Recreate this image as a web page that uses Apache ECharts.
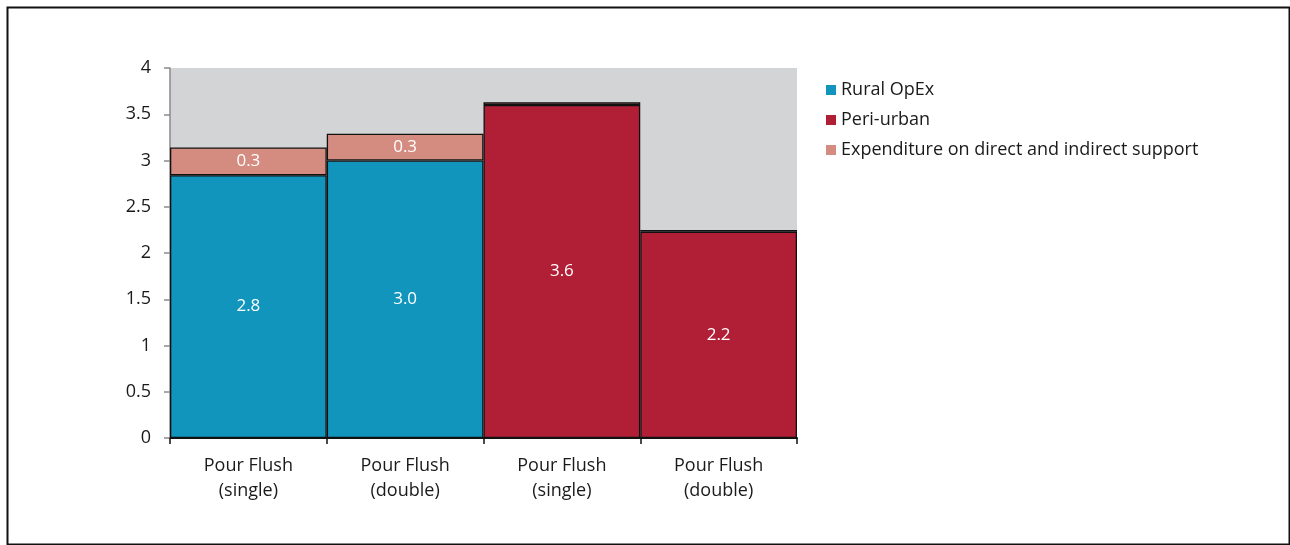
<!DOCTYPE html>
<html>
<head>
<meta charset="utf-8">
<script src="https://cdn.jsdelivr.net/npm/echarts@6/dist/echarts.min.js"></script>
<style>
  html, body { margin: 0; padding: 0; background: #ffffff; }
  #chart { width: 1290px; height: 545px; }
</style>
</head>
<body>
<div id="chart"></div>
<script>
// Categories along the x axis
const categories = ['Pour Flush\n(single)', 'Pour Flush\n(double)', 'Pour Flush\n(single)', 'Pour Flush\n(double)'];

// Stacked values (US$ per household)
const ruralOpEx = [2.84, 3.0, null, null];
const periUrban = [null, null, 3.6, 2.23];
const supportExpenditure = [0.3, 0.29, 0.03, 0.02];

// Y axis ticks
const yMin = 0;
const yMax = 4;
const yStep = 0.5;

const FONT = '"Open Sans", "Noto Sans", sans-serif';
const TEXT = '#1a1a1a';

const chart = echarts.init(document.getElementById('chart'), null, { renderer: 'canvas' });

const valueLabel = {
  show: true,
  position: 'inside',
  color: '#ffffff',
  fontFamily: FONT,
  fontSize: 17,
  formatter: p => (p.value == null || p.value < 0.1) ? '' : Number(p.value).toFixed(1)
};

const barBorder = { borderColor: '#111111', borderWidth: 1.3 };

chart.setOption({
  animation: false,
  backgroundColor: '#ffffff',
  graphic: [{
    type: 'rect',
    left: 5, top: 5,
    shape: { width: 1282, height: 537 },
    style: { fill: 'none', stroke: '#111111', lineWidth: 2 },
    silent: true,
    z: 100
  }],
  legend: {
    orient: 'vertical',
    left: 826,
    top: 80,
    padding: 0,
    itemWidth: 10,
    itemHeight: 10,
    itemGap: 10,
    icon: 'rect',
    textStyle: { color: TEXT, fontFamily: FONT, fontSize: 18, lineHeight: 20 },
    itemStyle: { borderWidth: 0 },
    data: ['Rural OpEx', 'Peri-urban', 'Expenditure on direct and indirect support']
  },
  grid: {
    left: 170,
    right: 493,
    top: 68,
    bottom: 107,
    show: true,
    backgroundColor: '#d3d4d6',
    borderWidth: 0
  },
  xAxis: {
    type: 'category',
    data: categories,
    axisLine: { lineStyle: { color: '#111111', width: 2 } },
    axisTick: { show: true, length: 6, lineStyle: { color: '#111111', width: 1.5 } },
    axisLabel: { color: TEXT, fontFamily: FONT, fontSize: 18, lineHeight: 25, margin: 15 }
  },
  yAxis: {
    type: 'value',
    min: yMin,
    max: yMax,
    interval: yStep,
    splitLine: { show: false },
    axisLine: { show: true, lineStyle: { color: '#8a8a8a', width: 1.5 } },
    axisTick: { show: true, length: 6, lineStyle: { color: '#8a8a8a', width: 1.5 } },
    axisLabel: { color: TEXT, fontFamily: FONT, fontSize: 18, margin: 19 }
  },
  series: [
    {
      name: 'Rural OpEx',
      type: 'bar',
      stack: 'total',
      barCategoryGap: '0%',
      data: ruralOpEx,
      itemStyle: Object.assign({ color: '#1195bd' }, barBorder),
      label: valueLabel
    },
    {
      name: 'Peri-urban',
      type: 'bar',
      stack: 'total',
      barCategoryGap: '0%',
      data: periUrban,
      itemStyle: Object.assign({ color: '#b01f36' }, barBorder),
      label: valueLabel
    },
    {
      name: 'Expenditure on direct and indirect support',
      type: 'bar',
      stack: 'total',
      barCategoryGap: '0%',
      data: supportExpenditure,
      itemStyle: Object.assign({ color: '#d48b80' }, barBorder),
      label: valueLabel
    }
  ]
});
</script>
</body>
</html>
